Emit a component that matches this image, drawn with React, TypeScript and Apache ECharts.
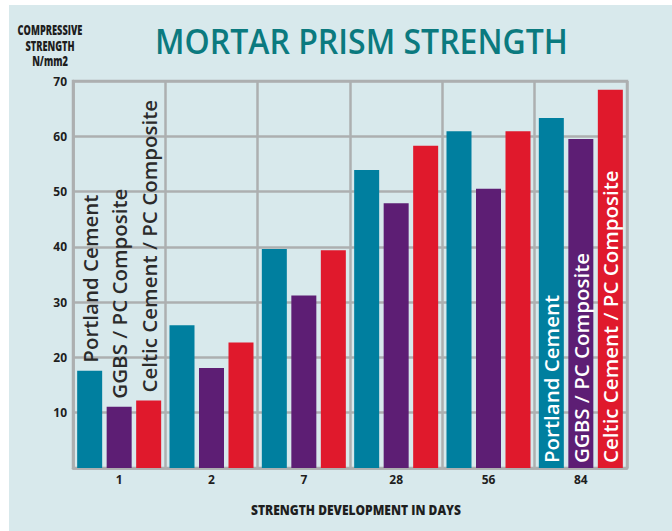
import React, { useEffect, useRef } from "react";
import * as echarts from "echarts";

const categories = ["1", "2", "7", "28", "56", "84"];
const seriesNames = ["Portland Cement", "GGBS / PC Composite", "Celtic Cement / PC Composite"];
const portland = [17.6, 25.8, 39.6, 53.9, 60.9, 63.3];
const ggbs = [11.1, 18.1, 31.2, 47.9, 50.5, 59.5];
const celtic = [12.2, 22.7, 39.4, 58.3, 60.9, 68.4];
const yTicks = [0, 10, 20, 30, 40, 50, 60, 70];
const titleText = "MORTAR PRISM STRENGTH";
const yNameLines = ["COMPRESSIVE", "STRENGTH", "N/mm2"];
const xName = "STRENGTH DEVELOPMENT IN DAYS";

const COLORS = ["#007f9f", "#5d1e74", "#e0192c"];
const PANEL = "#d8e9ec";
const GRIDC = "#adafb0";

export default function App() {
  const ref = useRef<HTMLDivElement>(null);
  useEffect(() => {
    if (!ref.current) return;
    const chart = echarts.init(ref.current, undefined, { renderer: "svg" });
    const all = [portland, ggbs, celtic];
    const last = categories.length - 1;
    const labelFont = {
      fontFamily: "Open Sans",
      fontWeight: 600,
      fontSize: 20.5,
    };
    const series = all.map((vals, si) => ({
      name: seriesNames[si],
      type: "bar",
      barWidth: 25,
      barGap: "18%",
      itemStyle: { color: COLORS[si] },
      data: vals.map((v, i) => {
        if (i === 0) {
          return {
            value: v,
            label: {
              show: true,
              formatter: seriesNames[si],
              position: "top",
              rotate: 90,
              align: "left",
              verticalAlign: "middle",
              distance: 8,
              color: "#2b2b2b",
              ...labelFont,
            },
          };
        }
        if (i === last) {
          return {
            value: v,
            label: {
              show: true,
              formatter: seriesNames[si],
              position: "insideBottom",
              rotate: 90,
              align: "left",
              verticalAlign: "middle",
              distance: 5,
              color: "#ffffff",
              ...labelFont,
            },
          };
        }
        return v;
      }),
    }));

    const graphic: any[] = [
      { type: "rect", z: -10, shape: { x: 9, y: 5, width: 672, height: 540 }, style: { fill: PANEL } },
      {
        type: "text",
        x: 155,
        y: 40,
        scaleX: 0.915,
        style: {
          text: titleText,
          fill: "#0b7a7f",
          font: "600 35px 'Open Sans'",
          textAlign: "left",
          textVerticalAlign: "middle",
        },
      },
      {
        type: "text",
        x: 356,
        y: 510,
        scaleX: 0.86,
        style: {
          text: xName,
          fill: "#1e1e1e",
          font: "800 14px 'Open Sans'",
          textAlign: "center",
          textVerticalAlign: "middle",
        },
      },
    ];
    yNameLines.forEach((t, i) => {
      graphic.push({
        type: "text",
        x: 50,
        y: 29.5 + i * 15.5,
        scaleX: 0.66,
        style: {
          text: t,
          fill: "#1e1e1e",
          font: "800 14px 'Open Sans'",
          textAlign: "center",
          textVerticalAlign: "middle",
        },
      });
    });

    chart.setOption({
      animation: false,
      backgroundColor: "#ffffff",
      graphic,
      grid: {
        left: 73,
        right: 45,
        top: 81,
        bottom: 63,
        show: true,
        borderColor: GRIDC,
        borderWidth: 2.5,
        backgroundColor: "transparent",
      },
      xAxis: {
        type: "category",
        data: categories,
        axisTick: { show: false },
        axisLine: { show: true, lineStyle: { color: GRIDC, width: 2.5 } },
        splitLine: { show: true, lineStyle: { color: GRIDC, width: 2.5 } },
        axisLabel: {
          color: "#1e1e1e",
          fontFamily: "Open Sans",
          fontWeight: "bold",
          fontSize: 12,
          margin: 5,
        },
      },
      yAxis: {
        type: "value",
        min: yTicks[0],
        max: yTicks[yTicks.length - 1],
        interval: 10,
        axisTick: { show: false },
        axisLine: { show: true, lineStyle: { color: GRIDC, width: 2.5 } },
        splitLine: { show: true, lineStyle: { color: GRIDC, width: 2.5 } },
        axisLabel: {
          color: "#1e1e1e",
          fontFamily: "Open Sans",
          fontWeight: "bold",
          fontSize: 12,
          margin: 6,
          formatter: (v: number) => (v === 0 ? "" : String(v)),
        },
      },
      series,
    });
    return () => chart.dispose();
  }, []);
  return (
    <div
      ref={ref}
      style={{ position: "absolute", left: 0, top: 0, width: 672, height: 531 }}
    />
  );
}
